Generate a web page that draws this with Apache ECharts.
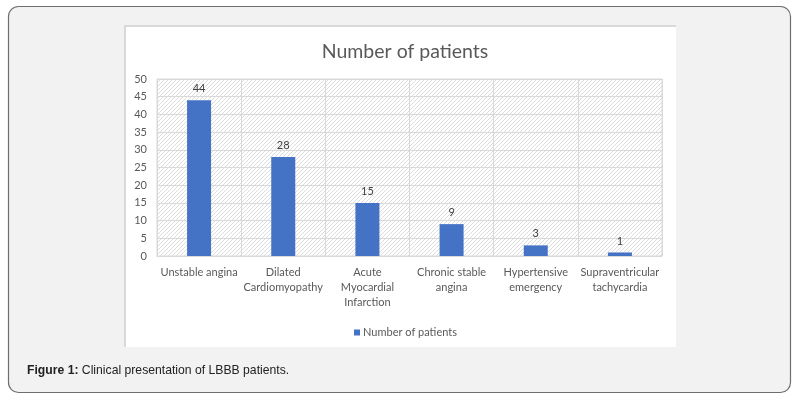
<!DOCTYPE html>
<html>
<head>
<meta charset="utf-8">
<script src="https://cdn.jsdelivr.net/npm/echarts@6/dist/echarts.min.js"></script>
<style>html,body{margin:0;padding:0;background:#fff;}#c{width:805px;height:399px;}</style>
</head>
<body>
<div id="c"></div>
<script>
var categories = ['Unstable angina', 'Dilated\nCardiomyopathy', 'Acute\nMyocardial\nInfarction', 'Chronic stable\nangina', 'Hypertensive\nemergency', 'Supraventricular\ntachycardia'];
var patients = [44, 28, 15, 9, 3, 1];
var seriesName = 'Number of patients';
var chartTitle = 'Number of patients';
var captionBold = 'Figure 1:';
var captionText = ' Clinical presentation of LBBB patients.';

function hatch() {
  var c = document.createElement('canvas');
  c.width = 4; c.height = 4;
  var g = c.getContext('2d');
  g.fillStyle = '#ffffff';
  g.fillRect(0, 0, 4, 4);
  g.strokeStyle = '#dcdcdc';
  g.lineWidth = 1;
  g.beginPath();
  g.moveTo(-1, 5); g.lineTo(5, -1);
  g.moveTo(-1, 1); g.lineTo(1, -1);
  g.moveTo(3, 5); g.lineTo(5, 3);
  g.stroke();
  return c;
}

var chart = echarts.init(document.getElementById('c'), null, {renderer: 'canvas'});
var font = 'Lato, "Open Sans", sans-serif';
chart.setOption({
  animation: false,
  backgroundColor: '#ffffff',
  textStyle: {fontFamily: font},
  graphic: [
    {type: 'rect', z: -100, shape: {x: 8.5, y: 6.5, width: 782, height: 386, r: 10},
     style: {fill: '#f2f2f2', stroke: '#6e6e6e', lineWidth: 1.2}},
    {type: 'rect', z: -99, shape: {x: 124, y: 25, width: 552, height: 322},
     style: {fill: '#d9d9d9'}},
    {type: 'rect', z: -98, shape: {x: 126, y: 27, width: 550, height: 320},
     style: {fill: '#ffffff'}},
    {type: 'text', z: -97, x: 27, y: 371,
     style: {text: '{b|' + captionBold + '}' + captionText, fill: '#222222',
       font: '12.2px "Liberation Sans", Arial, sans-serif', verticalAlign: 'middle',
       rich: {b: {fontWeight: 'bold', fontSize: 12.2, fontFamily: '"Liberation Sans", Arial, sans-serif', fill: '#222222'}}}}
  ],
  title: {
    text: chartTitle,
    left: 400,
    top: 37,
    textAlign: 'center',
    textStyle: {fontFamily: font, fontSize: 19.5, fontWeight: 'normal', color: '#595959'}
  },
  legend: {
    data: [seriesName],
    left: 349,
    top: 322,
    icon: 'rect',
    itemWidth: 6,
    itemHeight: 6,
    itemGap: 4,
    textStyle: {fontFamily: font, fontSize: 11, color: '#595959', padding: [0, 0, 0, -2]}
  },
  grid: {
    left: 157, right: 143, top: 79, bottom: 143,
    show: true,
    borderColor: '#d9d9d9', borderWidth: 1,
    backgroundColor: {image: hatch(), repeat: 'repeat'}
  },
  xAxis: {
    type: 'category',
    data: categories,
    axisLine: {lineStyle: {color: '#d9d9d9'}},
    axisTick: {show: false},
    splitLine: {show: true, interval: 0, lineStyle: {color: '#d9d9d9'}},
    axisLabel: {interval: 0, color: '#595959', fontSize: 11, lineHeight: 15, margin: 9, fontFamily: font}
  },
  yAxis: {
    type: 'value',
    min: 0, max: 50, interval: 5,
    axisLine: {show: false},
    axisTick: {show: false},
    splitLine: {lineStyle: {color: '#d9d9d9'}},
    axisLabel: {color: '#595959', fontSize: 11, margin: 10, fontFamily: font}
  },
  series: [{
    name: seriesName,
    type: 'bar',
    data: patients,
    barWidth: 24,
    itemStyle: {color: '#4472c4'},
    label: {show: true, position: 'top', distance: 6, color: '#404040', fontSize: 11, fontFamily: font}
  }]
});
</script>
</body>
</html>
